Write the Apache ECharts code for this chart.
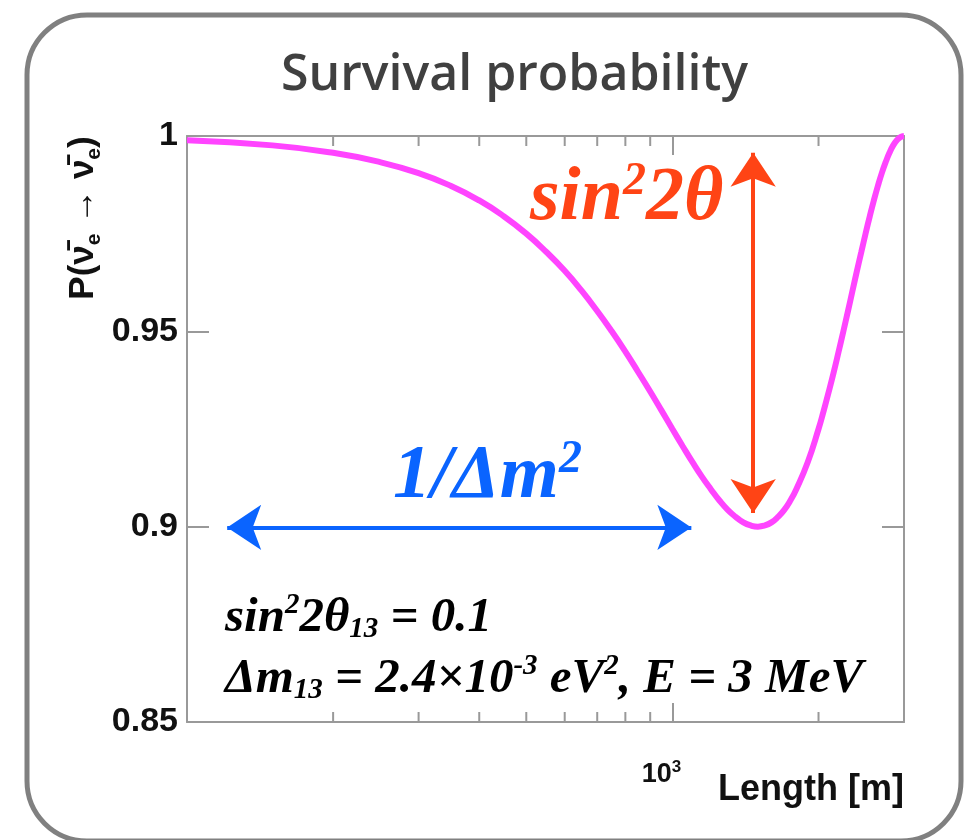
<!DOCTYPE html>
<html>
<head>
<meta charset="utf-8">
<script src="https://cdn.jsdelivr.net/npm/echarts@6/dist/echarts.min.js"></script>
<style>
	html, body { margin: 0; padding: 0; background: #fff; }
	#chart { width: 971px; height: 840px; }
</style>
</head>
<body>
<div id="chart"></div>
<script>
// baseline [m] and survival probability
const lengths = [
	100, 150, 200, 250, 300, 350, 400, 450, 500, 550, 600, 650, 700, 750, 800, 850, 900, 950,
	1000, 1050, 1100, 1150, 1200, 1250, 1300, 1350, 1400, 1450, 1500, 1550, 1600, 1650, 1700, 1750,
	1800, 1900, 2000, 2050, 2100, 2150, 2200, 2250, 2300, 2350, 2400, 2450, 2500, 2550, 2600, 2650,
	2700, 2750, 2800, 2850, 2900, 2950, 3000
]
const probability = [
	0.9989, 0.9976, 0.9957, 0.9933, 0.9905, 0.9872, 0.9835, 0.9794, 0.9750, 0.9703, 0.9655, 0.9604,
	0.9552, 0.9500, 0.9448, 0.9396, 0.9346, 0.9297, 0.9250, 0.9206, 0.9165, 0.9128, 0.9096, 0.9067,
	0.9043, 0.9025, 0.9011, 0.9003, 0.9000, 0.9003, 0.9011, 0.9025, 0.9043, 0.9067, 0.9096, 0.9165,
	0.9250, 0.9297, 0.9346, 0.9396, 0.9448, 0.9500, 0.9552, 0.9604, 0.9655, 0.9703, 0.9750, 0.9794,
	0.9835, 0.9872, 0.9905, 0.9933, 0.9957, 0.9976, 0.9989, 0.9997, 1.0000
]
const xRange = [100, 3000]
const yRange = [0.85, 1]
const xMinorTicks = [200, 300, 400, 500, 600, 700, 800, 900, 2000]

// arrows (tip to tip): amplitude (sin²2θ) and oscillation length (1/Δm²)
const ampArrow = [[1467, 0.9957], [1467, 0.9035]]
const lenArrow = [[121, 0.8998], [1094, 0.8998]]

const AXIS = '#999'
const serif = '"Liberation Serif", "DejaVu Serif", serif'
const sans = '"Liberation Sans", Arial, sans-serif'

const chart = echarts.init(document.getElementById('chart'))

function axisCommon(extra) {
	return Object.assign({
		axisLine: { show: true, onZero: false, lineStyle: { color: AXIS, width: 2 } },
		splitLine: { show: false },
		minorTick: { show: false }
	}, extra)
}

// rich styles for the formula texts (graphic text uses fill, not color)
function mathRich(size, color) {
	const small = Math.round(size * 0.6)
	const lh = size + 4
	const base = { fontFamily: serif, fontStyle: 'italic', fontWeight: 'bold', fill: color }
	return {
		a: Object.assign({ fontSize: size, lineHeight: lh }, base),
		sup: Object.assign({ fontSize: small, lineHeight: lh, verticalAlign: 'top' }, base),
		sub: Object.assign({ fontSize: small, lineHeight: lh, verticalAlign: 'bottom' }, base)
	}
}

chart.setOption({
	animation: false,
	backgroundColor: '#fff',
	title: {
		text: 'Survival probability',
		left: 276,
		top: 46,
		textStyle: { fontFamily: '"Open Sans", "Noto Sans", sans-serif', fontWeight: 600, fontSize: 50, color: '#404040' }
	},
	grid: { left: 187, right: 67, top: 136, bottom: 118 },
	xAxis: [
		axisCommon({
			type: 'log',
			logBase: 10,
			min: xRange[0],
			max: xRange[1],
			position: 'bottom',
			axisTick: { inside: true, length: 19, lineStyle: { color: AXIS, width: 2 } },
			axisLabel: {
				margin: 37,
				padding: [0, 22, 0, 0],
				fontFamily: sans,
				fontWeight: 'bold',
				fontSize: 27,
				lineHeight: 32,
				color: '#111',
				formatter: v => (Math.round(v) === 1000 ? '10{sup|3}' : ''),
				rich: {
					sup: { fontFamily: sans, fontWeight: 'bold', fontSize: 17, color: '#111', verticalAlign: 'top', lineHeight: 32 }
				}
			},
			name: 'Length [m]',
			nameLocation: 'end',
			nameGap: 0,
			nameTextStyle: {
				fontFamily: sans, fontWeight: 'bold', fontSize: 36, color: '#111',
				align: 'right', verticalAlign: 'top', padding: [50, 0, 0, 0]
			}
		}),
		axisCommon({
			type: 'log',
			logBase: 10,
			min: xRange[0],
			max: xRange[1],
			position: 'top',
			axisTick: { inside: true, length: 19, lineStyle: { color: AXIS, width: 2 } },
			axisLabel: { show: false }
		})
	],
	yAxis: [
		axisCommon({
			type: 'value',
			min: yRange[0],
			max: yRange[1],
			interval: 0.05,
			position: 'left',
			axisTick: { inside: true, length: 22, lineStyle: { color: AXIS, width: 2 } },
			axisLabel: {
				margin: 9,
				fontFamily: sans,
				fontWeight: 'bold',
				fontSize: 34,
				color: '#111',
				formatter: v => String(+v.toFixed(2))
			}
		}),
		axisCommon({
			type: 'value',
			min: yRange[0],
			max: yRange[1],
			interval: 0.05,
			position: 'right',
			axisTick: { inside: true, length: 22, lineStyle: { color: AXIS, width: 2 } },
			axisLabel: { show: false }
		})
	],
	graphic: [
		{
			type: 'rect',
			silent: true,
			z: -10,
			shape: { x: 27, y: 15, width: 934, height: 826, r: 60 },
			style: { fill: 'none', stroke: '#808080', lineWidth: 5 }
		},
		{
			type: 'text',
			x: 83,
			y: 218,
			rotation: Math.PI / 2,
			style: {
				text: '{b|P(ν̄}{s|e}{b| → ν̄}{s|e}{b|)}',
				align: 'center',
				verticalAlign: 'middle',
				rich: {
					b: { fontFamily: sans, fontWeight: 'bold', fontSize: 35, fill: '#111', lineHeight: 44 },
					s: { fontFamily: sans, fontWeight: 'bold', fontSize: 21, fill: '#111', verticalAlign: 'bottom', lineHeight: 44 }
				}
			}
		},
		{
			type: 'text',
			x: 530,
			y: 199,
			style: { text: '{a|sin}{sup|2}{a|2θ}', verticalAlign: 'middle', rich: mathRich(76, '#ff4415') }
		},
		{
			type: 'text',
			x: 393,
			y: 477,
			style: { text: '{a|1/Δm}{sup|2}', verticalAlign: 'middle', rich: mathRich(76, '#0a64ff') }
		},
		{
			type: 'text',
			x: 225,
			y: 618,
			style: { text: '{a|sin}{sup|2}{a|2θ}{sub|13}{a| = 0.1}', verticalAlign: 'middle', rich: mathRich(49, '#000') }
		},
		{
			type: 'text',
			x: 225,
			y: 679,
			style: {
				text: '{a|Δm}{sub|13}{a| = 2.4×10}{sup|-3}{a| eV}{sup|2}{a|, E = 3 MeV}',
				verticalAlign: 'middle',
				rich: mathRich(49, '#000')
			}
		}
	],
	series: [
		{
			name: 'P',
			type: 'line',
			xAxisIndex: 0,
			yAxisIndex: 0,
			data: lengths.map((l, i) => [l, probability[i]]),
			showSymbol: false,
			smooth: true,
			z: 5,
			lineStyle: { color: '#ff44ff', width: 6 },
			markLine: {
				silent: true,
				symbol: ['arrow', 'arrow'],
				symbolSize: [34, 34],
				label: { show: false },
				emphasis: { disabled: true },
				data: [
					[
						{ coord: ampArrow[0], lineStyle: { color: '#ff4415', width: 4, type: 'solid' } },
						{ coord: ampArrow[1] }
					],
					[
						{ coord: lenArrow[0], lineStyle: { color: '#0a64ff', width: 4, type: 'solid' } },
						{ coord: lenArrow[1] }
					]
				]
			}
		},
		{
			name: 'minor ticks',
			type: 'custom',
			xAxisIndex: 0,
			yAxisIndex: 0,
			silent: true,
			data: xMinorTicks.map(v => [v, yRange[0]]),
			renderItem(params, api) {
				const b = api.coord([api.value(0), yRange[0]])
				const t = api.coord([api.value(0), yRange[1]])
				const style = { stroke: AXIS, lineWidth: 2 }
				return {
					type: 'group',
					children: [
						{ type: 'line', shape: { x1: b[0], y1: b[1], x2: b[0], y2: b[1] - 10 }, style },
						{ type: 'line', shape: { x1: t[0], y1: t[1], x2: t[0], y2: t[1] + 10 }, style }
					]
				}
			}
		}
	]
})
</script>
</body>
</html>
